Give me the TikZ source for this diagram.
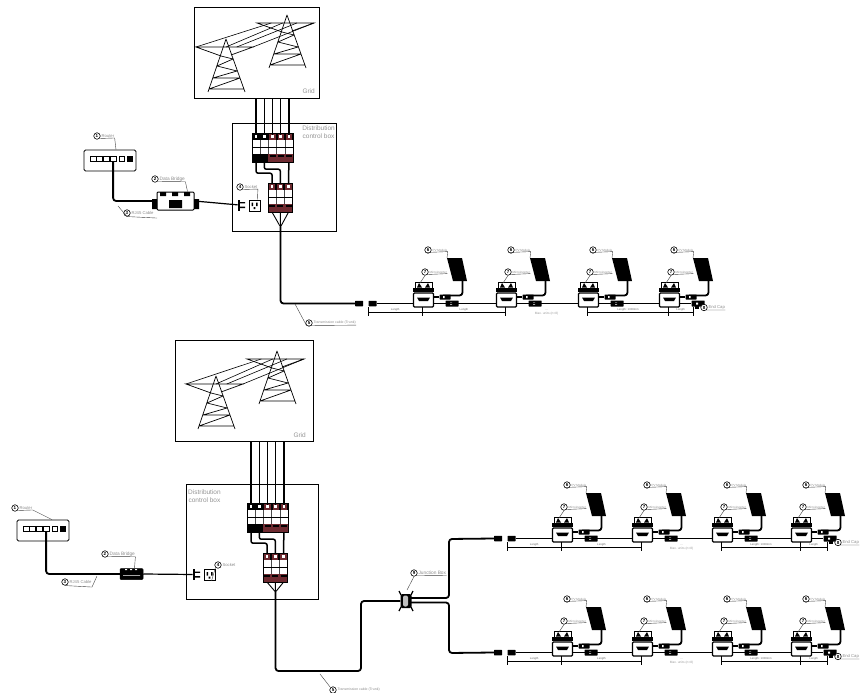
\documentclass[tikz,border=0pt]{standalone}
\usepackage{fontspec}
\setmainfont{Liberation Sans}
\usetikzlibrary{positioning,calc}
\definecolor{brkred}{HTML}{6E2A30}

\tikzset{
  framebox/.style={draw,line width=0.8pt,inner sep=0},
  boxtext/.style={text=black!42,font=\fontsize{6.5}{8}\selectfont,align=center,inner sep=0},
  gridtext/.style={text=black!42,font=\fontsize{6.5}{8}\selectfont,inner sep=0},
  cable/.style={line width=1.8pt,rounded corners=3pt,line join=round},
  wire/.style={line width=1.5pt,rounded corners=2pt},
  thinwire/.style={line width=0.9pt},
  leader/.style={line width=0.4pt,black!75},
  dim/.style={line width=0.45pt},
  tagmark/.style={circle,draw,line width=0.6pt,fill=white,minimum size=6.5pt,inner sep=0,
    font=\fontsize{4.5}{5}\bfseries\selectfont},
  tagtext/.style={text=black!45,font=\fontsize{4.2}{5}\selectfont,inner sep=0.3pt},
  dimtext/.style={text=black!60,font=\fontsize{2.8}{3}\selectfont,inner sep=0.4pt},
  pole/.style={inner sep=0,minimum width=8.2pt,minimum height=29pt},
  invbody/.style={draw,fill=white,line width=1.2pt,rounded corners=1pt,inner sep=0,
    minimum width=20pt,minimum height=14pt},
  routerbox/.style={draw,line width=0.8pt,rounded corners=1.5pt,fill=white,inner sep=0},
  conn/.style={fill=black,inner sep=0,minimum width=8pt,minimum height=5.5pt,rounded corners=0.5pt},
  pics/tower/.style={code={
    \draw[line width=0.7pt,line join=round]
      (-18,53) -- (0,0) -- (19,53)
      (-5,17) -- (7,20) -- (-9,27) -- (11,32) -- (-13,39) -- (14,39) -- (-17,50) -- (18,50);
    \coordinate (-al) at (-30,8);
    \coordinate (-am) at (0,8);
    \coordinate (-ar) at (27,8);
    \draw[line width=0.7pt] (-5,17) -- (-al) -- (-ar) -- (5,16);
  }},
  pics/breaker/.style={code={
    \foreach \k in {1,...,#1}{
      \ifnum\numexpr#1-\k\relax>2 \colorlet{bandc}{black}\else\colorlet{bandc}{brkred}\fi
      \node[pole] (-p\k) at ({(\k-0.5)*8.2},14.5) {};
      \fill[black] ({(\k-1)*8.2},0) rectangle ({\k*8.2},7);
      \fill[bandc] ({(\k-1)*8.2+1},0) rectangle ({\k*8.2-1},7);
      \fill[white] ({(\k-0.5)*8.2-1.3},2) rectangle ({(\k-0.5)*8.2+1.3},5);
      \fill[bandc] ({(\k-1)*8.2},21) rectangle ({\k*8.2},29);
      \fill[black] ({(\k-0.5)*8.2-3},22) rectangle ({(\k-0.5)*8.2+3},24);
      \draw[line width=0.35pt,black!70] ({(\k-1)*8.2},7) -- ({(\k-1)*8.2},21);
    }
    \draw[line width=0.4pt] (0,0) rectangle ({#1*8.2},29) (0,14) -- ({#1*8.2},14);
  }},
  pics/router/.style={code={
    \node[routerbox,minimum width=52pt,minimum height=21pt] (-box) at (26,10.5) {};
    \foreach \k in {0,...,3}{
      \node[draw,line width=1pt,minimum width=6pt,minimum height=4.5pt,inner sep=0] (-port\k) at ({9+\k*6.7},9) {};
    }
    \node[draw,line width=0.8pt,minimum width=5pt,minimum height=5pt,inner sep=0] (-lan) at (38,9) {};
    \node[fill=black,minimum width=6pt,minimum height=6pt,inner sep=0] (-pwr) at (46,9) {};
  }},
  pics/plugsocket/.style={code={
    \node[fill=black,minimum width=2.2pt,minimum height=11pt,inner sep=0] (-plug) at (0,0) {};
    \fill (1,-3) rectangle (6,-1.6) (1,1.6) rectangle (6,3);
    \node[draw,line width=0.9pt,fill=white,minimum size=11pt,inner sep=0] (-sock) at (15.5,0.5) {};
    \fill (12.5,-2.5) rectangle (14,1) (17,-2.5) rectangle (18.5,1) (14.6,2) rectangle (16.4,4);
  }},
  pics/unit/.style={code={
    % inverter, origin at its upper left corner
    \node[invbody] (-inv) at (10.5,18) {};
    \coordinate (-in) at (0,21.5);
    \coordinate (-out) at (21,21.5);
    \draw[line width=0.8pt,fill=white] (2,0) rectangle (19,6);
    \fill (4,5.5) -- (6,1) -- (9,5.5) -- cycle (12,5.5) -- (15,1) -- (17,5.5) -- cycle;
    \fill (0,6) rectangle (21,10);
    \fill (4,15.5) -- (17,15.5) -- (15,19) -- (6,19) -- cycle;
    % panel and its leads
    \fill (34,-24) -- (49,-24) -- (54,-1) -- (40,-1) -- cycle;
    \coordinate (-pv) at (34,-24);
    \draw[cable] (49.5,-1) -- (49.5,13.5) -- (30,13.5);
    \node[conn,minimum width=11pt,minimum height=5pt] (-c1) at (32,15) {};
    \node[conn,minimum width=13pt,minimum height=6pt] (-c2) at (39,21.5) {};
    \fill[white] (37,20.5) rectangle (39,22.5) (30,14) rectangle (31.5,16);
    \draw[wire] (21,15) -- (-c1);
    % tick of the length line
    \coordinate (-dim) at (9.5,30);
    \draw[dim] (9.5,25) -- (9.5,34);
    % part tags
    \node[tagmark] (-tp) at (15,-32) {6};
    \node[tagtext] (-lp) [right=0.5pt of -tp,font=\fontsize{3}{4}\selectfont] {PV Module};
    \draw[leader] (-tp.south west) -- (-lp.south east) -- (-pv);
    \node[tagmark] (-tm) at (12,-10) {7};
    \node[tagtext] (-lm) [right=0.5pt of -tm,font=\fontsize{3}{4}\selectfont] {Microinverter};
    \draw[leader] (-tm.south) -- (7,1);
    \draw[leader] (-tm.south east) -- (-lm.south east);
  }},
}

\newcommand{\gridtowers}[3]{% name and the two tops
  \pic (#1l) at (#2) {tower};
  \pic (#1r) at (#3) {tower};
  \draw[line width=0.6pt] (#1l-al) -- ($(#1r-al)!0.25!(#1r-ar)$)
    (#1l-am) -- ($(#1r-al)!0.45!(#1r-ar)$)
    ($(#1l-am)!0.4!(#1l-ar)$) -- ($(#1r-al)!0.7!(#1r-ar)$)
    (#1l-ar) -- (#1r-ar);
}
\newcommand{\tagnode}[4]{% name, place, number, text
  \node[tagmark] (t#1) at (#2) {#3};
  \node[tagtext] (l#1) [right=0.5pt of t#1] {#4};
}
\newcommand{\invrow}[8]{% prefix, y, the four inverters, start and end of the length line
  \pic (#1a) at (#3,#2) {unit};
  \pic (#1b) at (#4,#2) {unit};
  \pic (#1c) at (#5,#2) {unit};
  \pic (#1d) at (#6,#2) {unit};
  \node[conn] (#1plug) at (#7-9,#2+21.5) {};
  \node[conn] (#1sock) at (#7+4.5,#2+21.5) {};
  \draw[cable] (#1sock) -- (#1a-in);
  \draw[cable] (#1a-out) -- (#1b-in);
  \draw[cable] (#1b-out) -- (#1c-in);
  \draw[cable] (#1c-out) -- (#1d-in);
  \draw[cable] (#1d-out) -- (#1d-c2);
  \coordinate (#1ds) at (#7,#2+30);
  \coordinate (#1de) at (#8,#2+30);
  \draw[dim] (#7,#2+25) -- (#7,#2+34) (#8,#2+25) -- (#8,#2+34);
  \draw[dim] (#1ds) -- node[dimtext,above,pos=0.5] {Length} (#1a-dim);
  \draw[dim] (#1a-dim) -- node[dimtext,above] {Length} (#1b-dim);
  \draw[dim] (#1c-dim) -- node[dimtext,above] {Length: 1000mm} (#1d-dim);
  \draw[dim] (#1d-dim) -- node[dimtext,above] {Length} (#1de);
  \coordinate (#1mid) at ($(#1b-dim)!0.5!(#1c-dim)$);
  \node[dimtext] (#1dots) at ($(#1mid)+(0,-1.5)$) {...};
  \node[dimtext,text=black!40,font=\fontsize{3.2}{4}\selectfont] (#1max) [below=0.5pt of #1dots] {Max. units (n=8)};
  \node[fill=black,minimum size=4pt,inner sep=0] (#1cap) at (#8+4,#2+24.5) {};
  \tagnode{#1end}{#8+11,#2+25.5}{8}{End Cap}
  \draw[leader] (t#1end.south east) -- (l#1end.south east);
}

\begin{document}
\begin{tikzpicture}[x=1pt,y=-1pt]
\useasboundingbox (0,0) rectangle (862,693);

%% upper system
\node[framebox,minimum width=125pt,minimum height=91pt] (gridA) at (256.5,52.5) {};
\gridtowers{twA}{226,39}{287,15}
\node[gridtext,anchor=south east] (txtGridA) at (315,94) {Grid};
\node[framebox,minimum width=104pt,minimum height=108pt] (ctrlA) at (284,177) {};
\node[boxtext,anchor=north east] (txtCtrlA) at (335,126) {Distribution\\control box};

\pic (bkA) at (252,133) {breaker=5};
\pic (bkB) at (268,183) {breaker=3};
\foreach \k in {1,...,5}{
  \draw[wire] (bkA-p\k.north |- gridA.south) -- (bkA-p\k.south |- 0,135);
}
\draw[wire] (bkA-p1.south) -- ++(0,11) -| (bkB-p1.north);
\draw[wire] (bkA-p2.south) -- ++(0,7) -| (bkB-p2.north);
\draw[wire] (bkA-p5.south) -- (bkB-p3.north);
\coordinate (fanA) at (280.5,227);
\draw[thinwire] (bkB-p1.south) -- (fanA) (bkB-p2.south) -- (fanA) (bkB-p3.south) -- (fanA);

\pic (routerA) at (84,150) {router};
\node[framebox,line width=1pt,minimum width=37pt,minimum height=18pt,rounded corners=1pt,fill=white] (bridgeA) at (175.5,201) {};
\fill (169,200) rectangle (182,208) (152,199) rectangle (157,209) (194,199) rectangle (199,209);
\fill (160,192) rectangle (166,196) (172,192) rectangle (178,196) (184,192) rectangle (190,196);
\pic (psA) at (239,205) {plugsocket};
\draw[cable] (routerA-port3.south) |- (bridgeA.west);
\draw[cable,line width=1.2pt] (bridgeA.east) -- (psA-plug);

\tagnode{RouterA}{97,136}{1}{Router}
\draw[leader] (tRouterA.south east) -- (lRouterA.south east) -- ([xshift=6pt]routerA-box.north);
\tagnode{BridgeA}{155,179}{2}{\fontsize{4.8}{5}\selectfont Data Bridge}
\draw[leader] (tBridgeA.south east) -- (lBridgeA.south east) -- ([xshift=12pt]bridgeA.north);
\tagnode{CableA}{127,213}{3}{RJ45 Cable}
\draw[leader] (tCableA.south) -- ++(30,1.5) (tCableA.south) -- (118,206);
\tagnode{SocketA}{240,187}{4}{Socket}
\draw[leader] (tSocketA.south east) -- (lSocketA.south east) -- ([xshift=3pt]psA-sock.north);

\invrow{ua}{282}{413}{496}{578}{659}{368}{693}
\draw[cable] (fanA) |- (uaplug.west);
\coordinate (dropA) at (295,304);
\tagnode{TrunkA}{309,323}{5}{\fontsize{3.5}{4}\selectfont Transmission cable (Trunk)}
\draw[leader] (dropA) -- (tTrunkA.south west) -- (lTrunkA.south east);

%% lower system
\node[framebox,minimum width=138pt,minimum height=101pt] (gridB) at (244,390.5) {};
\gridtowers{twB}{216,376}{277,351}
\node[gridtext,anchor=south east] (txtGridB) at (306,438) {Grid};
\node[framebox,minimum width=132pt,minimum height=115pt] (ctrlB) at (252,541.5) {};
\node[boxtext,anchor=north west] (txtCtrlB) at (188,490) {Distribution\\control box};

\pic (bkC) at (247,503) {breaker=5};
\pic (bkD) at (263,553) {breaker=3};
\foreach \k in {1,...,5}{
  \draw[wire] (bkC-p\k.north |- gridB.south) -- (bkC-p\k.south |- 0,505);
}
\draw[wire] (bkC-p1.south) -- ++(0,11) -| (bkD-p1.north);
\draw[wire] (bkC-p2.south) -- ++(0,7) -| (bkD-p2.north);
\draw[wire] (bkC-p5.south) -- (bkD-p3.north);
\coordinate (fanB) at (275.5,592);
\draw[thinwire] (bkD-p1.south) -- (fanB) (bkD-p2.south) -- (fanB) (bkD-p3.south) -- (fanB);

\pic (routerB) at (17,520) {router};
\node[draw,fill=black,line width=0.5pt,minimum width=23pt,minimum height=11pt,rounded corners=1pt,inner sep=0] (bridgeB) at (131.5,574) {};
\fill[white] (125,569) rectangle (127,570) (130,569) rectangle (132,570) (135,569) rectangle (137,570) (123,575) rectangle (140,575.5);
\pic (psB) at (194,574.5) {plugsocket};
\draw[cable] (routerB-port3.south) |- (bridgeB.west);
\draw[cable,line width=1.2pt] (bridgeB.east) -- (psB-plug);

\tagnode{RouterB}{15,508}{1}{Router}
\draw[leader] (tRouterB.south east) -- (lRouterB.south east) -- ([xshift=9pt]routerB-box.north);
\tagnode{BridgeB}{105,554}{2}{\fontsize{4.8}{5}\selectfont Data Bridge}
\draw[leader] (tBridgeB.south east) -- (lBridgeB.south east) -- ([xshift=3pt]bridgeB.north);
\tagnode{CableB}{65,582}{3}{RJ45 Cable}
\draw[leader] (tCableB.south) -- ++(27,1.5) -- (97,576);
\tagnode{SocketB}{218,565}{4}{Socket}
\draw[leader] (tSocketB.south west) -- ([xshift=2pt]psB-sock.south);

%% junction box and its two rows
\node[fill=black,minimum width=11pt,minimum height=14pt,rounded corners=1.5pt,inner sep=0] (junc) at (406,601) {};
\node[fill=black!25,minimum width=5pt,minimum height=11pt,rounded corners=2pt,inner sep=0] (juncIn) at (405.5,601) {};
\draw[line width=1.2pt] (401,595) -- (399,591) (411,595) -- (413,591) (401,607) -- (399,611) (411,607) -- (413,611);
\coordinate (turnB) at (361,671);
\draw[cable] (fanB) |- (turnB) |- (junc.west);
\coordinate (jUp) at (411,598);
\coordinate (jDn) at (411,602.5);

\invrow{ub}{517}{552}{632}{712}{791}{507}{827}
\invrow{uc}{631}{552}{632}{712}{791}{507}{827}
\draw[cable] (jUp) -| (449,539) -- (ubplug.west);
\draw[cable] (jDn) -| (449,653) -- (ucplug.west);

\tagnode{JuncB}{414,573}{9}{\fontsize{4.8}{5}\selectfont Junction Box}
\draw[leader] (tJuncB.south) -- (407,590) (tJuncB.south east) -- (lJuncB.south east);
\coordinate (dropB) at (320,674);
\tagnode{TrunkB}{333,690}{5}{\fontsize{3.5}{4}\selectfont Transmission cable (Trunk)}
\draw[leader] (dropB) -- (tTrunkB.north west);
\end{tikzpicture}
\end{document}
